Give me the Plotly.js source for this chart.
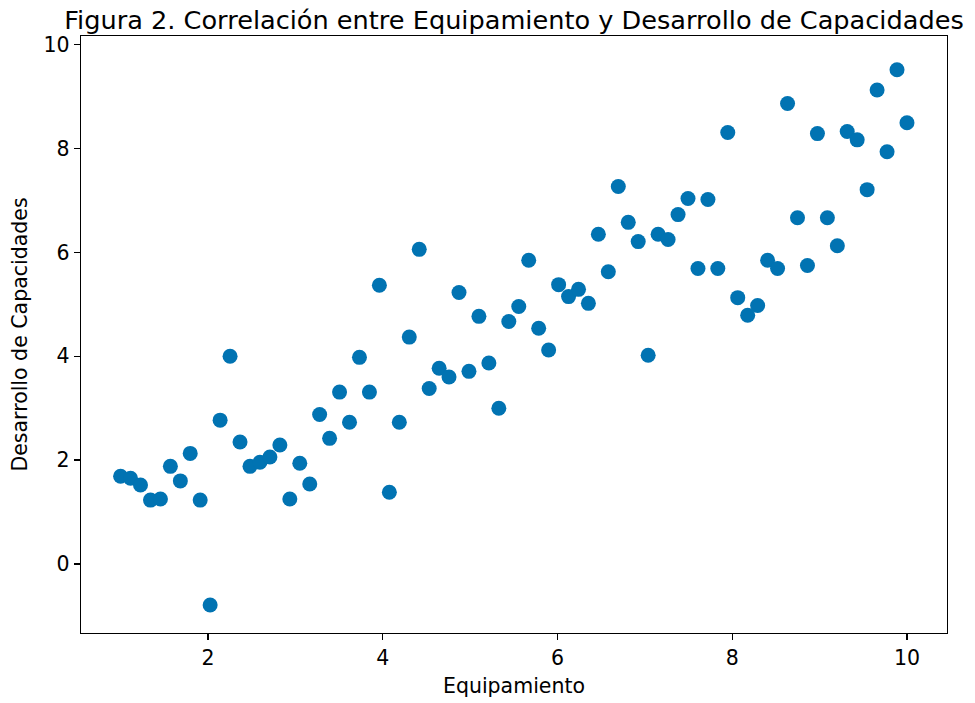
<!DOCTYPE html>
<html>
<head>
<meta charset="utf-8">
<script src="https://cdn.plot.ly/plotly-3.0.1.min.js"></script>
<style>html,body{margin:0;padding:0;background:#fff;}#chart{width:975px;height:703px;}</style>
</head>
<body>
<div id="chart"></div>
<script>
// Equipamiento: 80 evenly spaced values from 1 to 10
const equipamiento = [
1.000,1.114,1.228,1.342,1.456,1.570,1.684,1.797,1.911,2.025,
2.139,2.253,2.367,2.481,2.595,2.709,2.823,2.937,3.051,3.165,
3.278,3.392,3.506,3.620,3.734,3.848,3.962,4.076,4.190,4.304,
4.418,4.532,4.646,4.759,4.873,4.987,5.101,5.215,5.329,5.443,
5.557,5.671,5.785,5.899,6.013,6.127,6.241,6.354,6.468,6.582,
6.696,6.810,6.924,7.038,7.152,7.266,7.380,7.494,7.608,7.722,
7.835,7.949,8.063,8.177,8.291,8.405,8.519,8.633,8.747,8.861,
8.975,9.089,9.203,9.316,9.430,9.544,9.658,9.772,9.886,10.000
];
const desarrollo = [
1.69,1.65,1.52,1.23,1.25,1.88,1.60,2.13,1.23,-0.79,
2.77,4.00,2.35,1.88,1.96,2.06,2.29,1.25,1.94,1.54,
2.88,2.42,3.31,2.73,3.98,3.31,5.37,1.38,2.73,4.37,
6.06,3.38,3.77,3.60,5.23,3.71,4.77,3.87,3.00,4.67,
4.96,5.85,4.54,4.12,5.38,5.15,5.29,5.02,6.35,5.63,
7.27,6.58,6.21,4.02,6.35,6.25,6.73,7.04,5.69,7.02,
5.69,8.31,5.13,4.79,4.98,5.85,5.69,8.87,6.67,5.75,
8.29,6.67,6.13,8.33,8.17,7.21,9.13,7.94,9.52,8.50
];
const xTicks = [2,4,6,8,10];
const yTicks = [0,2,4,6,8,10];

const font = 'DejaVu Sans, sans-serif';
const trace = {
  x: equipamiento, y: desarrollo, type: 'scatter', mode: 'markers',
  marker: {color: '#0173b2', size: 15, line: {width: 0}},
  hoverinfo: 'x+y'
};
const axisBase = {
  showgrid: false, zeroline: false, showline: true, mirror: true,
  linecolor: '#000', linewidth: 1.3, ticks: 'outside', ticklen: 6,
  tickwidth: 1.3, tickcolor: '#000',
  tickfont: {family: font, size: 20.5, color: '#000'}
};
const layout = {
  width: 975, height: 703,
  paper_bgcolor: '#fff', plot_bgcolor: '#fff',
  margin: {l: 81, r: 28, t: 36, b: 70, pad: 0},
  showlegend: false,
  font: {family: font, color: '#000'},
  title: {text: 'Figura 2. Correlación entre Equipamiento y Desarrollo de Capacidades',
          font: {family: font, size: 25.6, color: '#000'},
          x: 0.5, xanchor: 'center', y: 0.972, yanchor: 'middle', xref: 'paper', yref: 'container'},
  xaxis: Object.assign({}, axisBase, {
    range: [0.547, 10.458], tickvals: xTicks, ticktext: xTicks.map(String),
    title: {text: 'Equipamiento', font: {family: font, size: 20.5, color: '#000'}, standoff: 9}
  }),
  yaxis: Object.assign({}, axisBase, {
    range: [-1.33, 10.17], tickvals: yTicks, ticktext: yTicks.map(String),
    title: {text: 'Desarrollo de Capacidades', font: {family: font, size: 20.5, color: '#000'}, standoff: 10}
  })
};
Plotly.newPlot('chart', [trace], layout, {displayModeBar: false, staticPlot: true});
</script>
</body>
</html>
